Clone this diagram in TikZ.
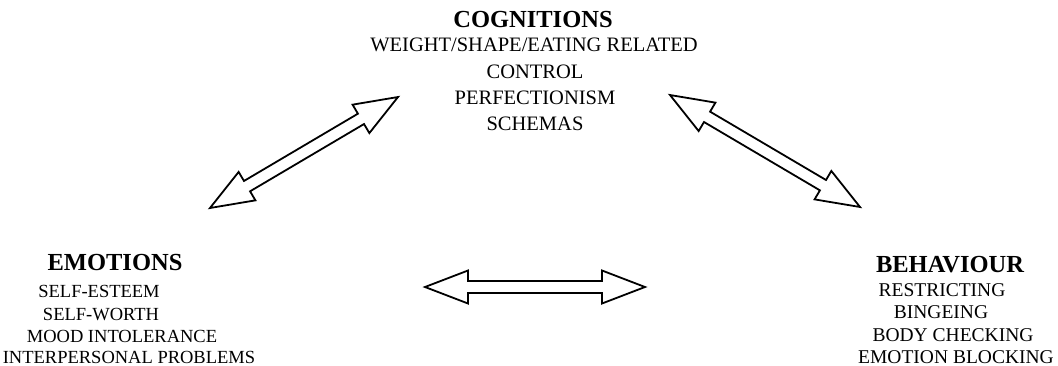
\documentclass[tikz,border=0pt]{standalone}
\usepackage{fontspec}
\setmainfont{Liberation Serif}
\usepackage{tikz}
\usetikzlibrary{calc,positioning}

\newcommand{\headlen}{43pt}
\newcommand{\headwid}{16.5pt}
\newcommand{\shaftwid}{6pt}
% hollow two-headed block arrow between two named coordinates
\newcommand{\twowayarrow}[2]{%
    \draw[blockarrow] (#1)
        -- ($(#1)!\headlen!(#2)!\headwid!90:(#2)$)
        -- ($(#1)!\headlen!(#2)!\shaftwid!90:(#2)$)
        -- ($(#2)!\headlen!(#1)!\shaftwid!-90:(#1)$)
        -- ($(#2)!\headlen!(#1)!\headwid!-90:(#1)$)
        -- (#2)
        -- ($(#2)!\headlen!(#1)!\headwid!90:(#1)$)
        -- ($(#2)!\headlen!(#1)!\shaftwid!90:(#1)$)
        -- ($(#1)!\headlen!(#2)!\shaftwid!-90:(#2)$)
        -- ($(#1)!\headlen!(#2)!\headwid!-90:(#2)$)
        -- cycle;}

\begin{document}
\begin{tikzpicture}[x=1pt, y=-1pt,
    heading/.style={font=\fontsize{24.5}{26}\selectfont\bfseries, anchor=base, inner sep=0pt},
    item/.style={font=\fontsize{20.5}{22}\selectfont, anchor=base, inner sep=0pt},
    smallitem/.style={item, font=\fontsize{18.5}{20}\selectfont},
    blockarrow/.style={line width=1.8pt, line join=miter, fill=white}]
    \useasboundingbox (0,0) rectangle (1058,365);

    % Cognitions (top)
    \node[heading] (cog) at (533,27) {COGNITIONS};
    \foreach \txt/\x/\y [count=\i] in {{WEIGHT/SHAPE/EATING RELATED}/534/51.5,
        CONTROL/535/78.5, PERFECTIONISM/535/104.5, SCHEMAS/535/130.5} {
        \node[item] (cog\i) at (\x,\y) {\txt};
    }

    % Emotions (bottom left)
    \node[heading] (emo) at (115,270) {EMOTIONS};
    \foreach \txt/\x/\y [count=\i] in {SELF-ESTEEM/99/297, SELF-WORTH/101/320,
        MOOD INTOLERANCE/122/342, INTERPERSONAL PROBLEMS/129/363} {
        \node[smallitem] (emo\i) at (\x,\y) {\txt};
    }

    % Behaviour (bottom right)
    \node[heading] (beh) at (950,272) {BEHAVIOUR};
    \foreach \txt/\x/\y [count=\i] in {RESTRICTING/942/296, BINGEING/941/318,
        BODY CHECKING/953/341, EMOTION BLOCKING/956/363} {
        \node[item, font=\fontsize{19.5}{21}\selectfont] (beh\i) at (\x,\y) {\txt};
    }

    % Arrow ends
    \coordinate (emoTip) at (210,208);
    \coordinate (cogTipL) at (398,97);
    \coordinate (cogTipR) at (670,95);
    \coordinate (behTip) at (860,207);
    \coordinate (emoTipB) at (425,287);
    \coordinate (behTipB) at (645,287);

    % Two-way arrows
    \twowayarrow{emoTip}{cogTipL}
    \twowayarrow{cogTipR}{behTip}
    \twowayarrow{emoTipB}{behTipB}
\end{tikzpicture}
\end{document}
